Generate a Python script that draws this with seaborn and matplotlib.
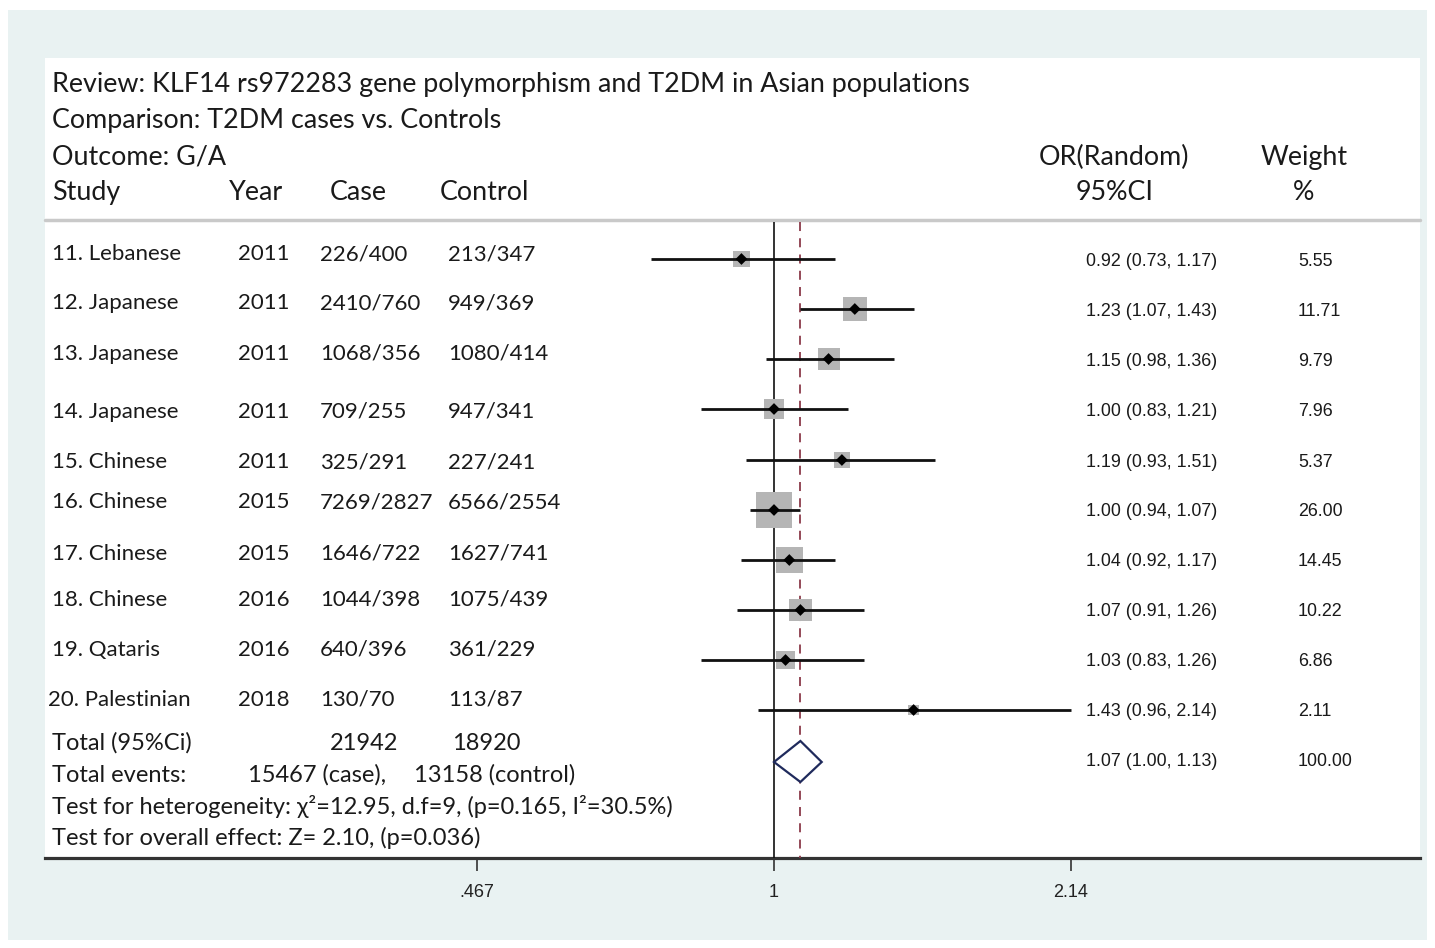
import numpy as np
import pandas as pd
import matplotlib
matplotlib.use("Agg")
import matplotlib.pyplot as plt
from matplotlib.patches import Rectangle, Polygon
import seaborn as sns

# ---------------- data ----------------
studies = ["11. Lebanese", "12. Japanese", "13. Japanese", "14. Japanese", "15. Chinese",
           "16. Chinese", "17. Chinese", "18. Chinese", "19. Qataris", "20. Palestinian"]
years = ["2011", "2011", "2011", "2011", "2011", "2015", "2015", "2016", "2016", "2018"]
cases = ["226/400", "2410/760", "1068/356", "709/255", "325/291",
         "7269/2827", "1646/722", "1044/398", "640/396", "130/70"]
controls = ["213/347", "949/369", "1080/414", "947/341", "227/241",
            "6566/2554", "1627/741", "1075/439", "361/229", "113/87"]
odds = [0.92, 1.23, 1.15, 1.00, 1.19, 1.00, 1.04, 1.07, 1.03, 1.43]
lower = [0.73, 1.07, 0.98, 0.83, 0.93, 0.94, 0.92, 0.91, 0.83, 0.96]
upper = [1.17, 1.43, 1.36, 1.21, 1.51, 1.07, 1.17, 1.26, 1.26, 2.14]
weights = [5.55, 11.71, 9.79, 7.96, 5.37, 26.00, 14.45, 10.22, 6.86, 2.11]
pooled_or, pooled_lo, pooled_hi, pooled_w = 1.07, 1.00, 1.13, 100.00
total_case, total_control = "21942", "18920"
events_case, events_control = "15467", "13158"
x_ticks = [0.467, 1.0, 2.14]
x_tick_labels = [".467", "1", "2.14"]

# ---------------- layout ----------------
W, H = 1435, 948
row_y = [259, 309, 359, 409, 460, 510, 560, 610, 660, 710]          # marker rows (px)
text_y = [254, 303, 354, 412, 462, 502, 554, 600, 650, 700]         # left text rows (px)
pooled_y = 762
panel_l, panel_r, panel_t, panel_b = 45, 1420, 58, 858
x_one = 774
px_per_log = 390.3

df = pd.DataFrame({"study": studies, "or": odds, "lo": lower, "hi": upper,
                   "w": weights, "y": row_y})

sns.set_theme(style="white")
plt.rcParams["font.family"] = ["Lato", "DejaVu Sans"]

fig = plt.figure(figsize=(W / 100, H / 100), dpi=100, facecolor="white")

# overlay axes in pixel coordinates for background, text, rules
bg = fig.add_axes([0, 0, 1, 1], zorder=0)
bg.set_xlim(0, W)
bg.set_ylim(H, 0)
bg.axis("off")
bg.add_patch(Rectangle((8, 10), W - 16, H - 18, facecolor="#e9f2f2", edgecolor="none"))
bg.add_patch(Rectangle((panel_l, panel_t), panel_r - panel_l, panel_b - panel_t,
                       facecolor="white", edgecolor="none"))

# main forest axes
ax = fig.add_axes([panel_l / W, 1 - panel_b / H, (panel_r - panel_l) / W,
                   (panel_b - panel_t) / H], zorder=2)
ax.patch.set_alpha(0)
ax.set_xscale("log")
ax.set_xlim(np.exp((panel_l - x_one) / px_per_log), np.exp((panel_r - x_one) / px_per_log))
ax.set_ylim(panel_b, panel_t)
for s in ["top", "left", "right"]:
    ax.spines[s].set_visible(False)
ax.spines["bottom"].set_color("#333333")
ax.spines["bottom"].set_linewidth(2.3)
ax.set_yticks([])
ax.set_xticks(x_ticks)
ax.set_xticklabels(x_tick_labels)
ax.minorticks_off()
ax.tick_params(axis="x", direction="out", length=9, width=1.2, color="#333333",
               pad=10, labelsize=13, labelcolor="#222222", bottom=True)
for lab in ax.get_xticklabels():
    lab.set_fontfamily(["Liberation Sans", "DejaVu Sans"])

# reference lines
ax.vlines(1.0, 222, panel_b, color="#111111", lw=1.2, zorder=3)
ax.vlines(pooled_or, 222, panel_b, color="#8b3a4a", lw=1.3, linestyles=(0, (5, 4)), zorder=3)

# CI lines
ax.hlines(df["y"], df["lo"], df["hi"], color="#111111", lw=2.0, zorder=4)

# weight squares (area proportional to weight)
wmin, wmax = min(weights), max(weights)
k = 25.84
sns.scatterplot(data=df, x="or", y="y", size="w", sizes=(k * wmin, k * wmax),
                size_norm=(wmin, wmax), marker="s", color="#b5b5b5", edgecolor="none",
                legend=False, ax=ax, zorder=3)
# point estimates
sns.scatterplot(data=df, x="or", y="y", marker="D", s=36, color="#000000",
                edgecolor="none", legend=False, ax=ax, zorder=5)
ax.set_xlabel("")
ax.set_ylabel("")

# pooled diamond
ax.add_patch(Polygon([(pooled_lo, pooled_y), (pooled_or, pooled_y - 21),
                      (pooled_hi, pooled_y), (pooled_or, pooled_y + 20)],
                     closed=True, facecolor="white", edgecolor="#1f2a5c", lw=1.6, zorder=5))

# header rule
bg.plot([panel_l, panel_r], [220, 220], color="#c9c9c9", lw=2.5, zorder=1)

# ---------------- text ----------------
tc = "#1a1a1a"
hs = 19.4
bg.text(52, 84, "Review: KLF14 rs972283 gene polymorphism and T2DM in Asian populations",
        fontsize=hs, color=tc, va="center", ha="left")
bg.text(52, 120, "Comparison: T2DM cases vs. Controls", fontsize=hs, color=tc, va="center")
bg.text(52, 157, "Outcome: G/A", fontsize=hs, color=tc, va="center")
bg.text(1114, 157, "OR(Random)", fontsize=hs, color=tc, va="center", ha="center")
bg.text(1304, 157, "Weight", fontsize=hs, color=tc, va="center", ha="center")
bg.text(52, 192, "Study", fontsize=hs, color=tc, va="center")
bg.text(229, 192, "Year", fontsize=hs, color=tc, va="center")
bg.text(330, 192, "Case", fontsize=hs, color=tc, va="center")
bg.text(440, 192, "Control", fontsize=hs, color=tc, va="center")
bg.text(1115, 192, "95%CI", fontsize=hs, color=tc, va="center", ha="center")
bg.text(1304, 192, "%", fontsize=hs, color=tc, va="center", ha="center")

rs = 16
for i in range(len(studies)):
    yy = text_y[i]
    bg.text(52 if i < 9 else 48, yy, studies[i], fontsize=rs, color=tc, va="center")
    bg.text(238, yy, years[i], fontsize=rs, color=tc, va="center")
    bg.text(320, yy, cases[i], fontsize=rs, color=tc, va="center")
    bg.text(448, yy, controls[i], fontsize=rs, color=tc, va="center")

num_font = ["Liberation Sans", "DejaVu Sans"]
ns = 12.9
for i in range(len(studies)):
    yy = row_y[i] + 2
    bg.text(1086, yy, f"{odds[i]:.2f} ({lower[i]:.2f}, {upper[i]:.2f})", fontsize=ns,
            color=tc, va="center", family=num_font)
    bg.text(1298, yy, f"{weights[i]:.2f}", fontsize=ns, color=tc, va="center", family=num_font)
bg.text(1086, pooled_y, f"{pooled_or:.2f} ({pooled_lo:.2f}, {pooled_hi:.2f})", fontsize=ns,
        color=tc, va="center", family=num_font)
bg.text(1298, pooled_y, f"{pooled_w:.2f}", fontsize=ns, color=tc, va="center", family=num_font)

bs = 17
bg.text(52, 743, "Total (95%Ci)", fontsize=bs, color=tc, va="center")
bg.text(330, 743, total_case, fontsize=bs, color=tc, va="center")
bg.text(452, 743, total_control, fontsize=bs, color=tc, va="center")
bg.text(52, 775, "Total events:", fontsize=bs, color=tc, va="center")
bg.text(248, 775, f"{events_case} (case),", fontsize=bs, color=tc, va="center")
bg.text(414, 775, f"{events_control} (control)", fontsize=bs, color=tc, va="center")
bg.text(52, 806, "Test for heterogeneity: χ²=12.95, d.f=9, (p=0.165, I²=30.5%)",
        fontsize=bs, color=tc, va="center")
bg.text(52, 838, "Test for overall effect: Z= 2.10, (p=0.036)", fontsize=bs, color=tc, va="center")

fig.savefig("out.png", dpi=100, facecolor="white")
